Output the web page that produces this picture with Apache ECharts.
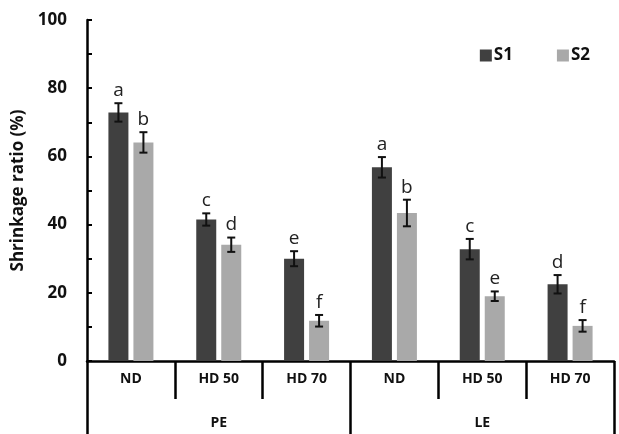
<!DOCTYPE html>
<html>
<head>
<meta charset="utf-8">
<script src="https://cdn.jsdelivr.net/npm/echarts@6/dist/echarts.min.js"></script>
<style>
  html, body { margin: 0; padding: 0; background: #fff; }
  #chart { width: 619px; height: 434px; }
</style>
</head>
<body>
<div id="chart"></div>
<script>
// categories
const subCats = ['ND', 'HD 50', 'HD 70', 'ND', 'HD 50', 'HD 70'];
const groups = ['PE', 'LE'];
const yTicks = [0, 20, 40, 60, 80, 100];

// values
const s1 = [72.9, 41.5, 30.0, 56.8, 32.8, 22.5];
const s2 = [64.1, 34.1, 11.8, 43.4, 19.0, 10.3];
const s1Err = [2.7, 1.8, 2.2, 3.0, 3.0, 2.7];
const s2Err = [3.0, 2.1, 1.7, 3.9, 1.4, 1.7];
const s1Letters = ['a', 'c', 'e', 'a', 'c', 'd'];
const s2Letters = ['b', 'd', 'f', 'b', 'e', 'f'];

const font = '"Open Sans", sans-serif';
const BAR_W = 20;
const OFFSET = 12.5; // half of bar width + half of gap

const myChart = echarts.init(document.getElementById('chart'));

// error bar + significance letter, drawn on top of the bars
function errorSeries(name, vals, errs, letters, side) {
    return {
        name: name + ' err',
        type: 'custom',
        z: 5,
        data: vals.map((v, i) => [i, v, errs[i]]),
        renderItem: function (params, api) {
            const i = api.value(0);
            const v = api.value(1);
            const e = api.value(2);
            const top = api.coord([i, v + e]);
            const bot = api.coord([i, v - e]);
            const x = top[0] + side * OFFSET;
            const cap = 4;
            const st = { stroke: '#111', lineWidth: 2 };
            return {
                type: 'group',
                children: [
                    { type: 'line', shape: { x1: x, y1: top[1], x2: x, y2: bot[1] }, style: st },
                    { type: 'line', shape: { x1: x - cap, y1: top[1], x2: x + cap, y2: top[1] }, style: st },
                    { type: 'line', shape: { x1: x - cap, y1: bot[1], x2: x + cap, y2: bot[1] }, style: st },
                    {
                        type: 'text',
                        style: {
                            text: letters[i], x: x, y: top[1] - 3,
                            textAlign: 'center', textVerticalAlign: 'bottom',
                            fontSize: 19, fontFamily: font, fill: '#222'
                        }
                    }
                ]
            };
        }
    };
}

const option = {
    animation: false,
    grid: { left: 87, right: 5, top: 20, bottom: 73 },
    legend: {
        data: ['S1', 'S2'],
        right: 24,
        top: 42,
        itemWidth: 12,
        itemHeight: 12,
        itemGap: 44,
        icon: 'rect',
        textStyle: { fontSize: 17, fontWeight: 'bold', fontFamily: font, color: '#111', padding: [0, 0, 0, -3] }
    },
    xAxis: [
        {
            type: 'category',
            data: subCats,
            position: 'bottom',
            axisLine: { lineStyle: { color: '#000', width: 2.5 } },
            axisTick: { show: true, length: 38, lineStyle: { color: '#000', width: 2.5 } },
            axisLabel: { margin: 11, fontSize: 14, fontWeight: 'bold', fontFamily: font, color: '#111' }
        },
        {
            type: 'category',
            data: groups,
            position: 'bottom',
            axisLine: { show: false },
            axisTick: { show: true, length: 73, lineStyle: { color: '#000', width: 2.5 } },
            axisLabel: { margin: 55, fontSize: 14, fontWeight: 'bold', fontFamily: font, color: '#111' }
        }
    ],
    yAxis: {
        type: 'value',
        min: 0,
        max: 100,
        interval: 20,
        name: 'Shrinkage ratio (%)',
        nameLocation: 'middle',
        nameGap: 51,
        nameTextStyle: { fontSize: 17, fontWeight: 'bold', fontFamily: font, color: '#111' },
        axisLine: { show: true, lineStyle: { color: '#000', width: 2.5 } },
        axisTick: { show: true, inside: true, length: 5, lineStyle: { color: '#000', width: 2 } },
        minorTick: { show: true, splitNumber: 2, length: 5, lineStyle: { color: '#000', width: 2 } },
        splitLine: { show: false },
        axisLabel: {
            margin: 20, fontSize: 17, fontWeight: 'bold', fontFamily: font, color: '#111',
            formatter: v => (yTicks.indexOf(v) >= 0 ? String(v) : '')
        }
    },
    series: [
        { name: 'S1', type: 'bar', data: s1, barWidth: BAR_W, barGap: '25%', itemStyle: { color: '#404040' } },
        { name: 'S2', type: 'bar', data: s2, barWidth: BAR_W, barGap: '25%', itemStyle: { color: '#a9a9a9' } },
        errorSeries('S1', s1, s1Err, s1Letters, -1),
        errorSeries('S2', s2, s2Err, s2Letters, 1)
    ]
};

myChart.setOption(option);
</script>
</body>
</html>
